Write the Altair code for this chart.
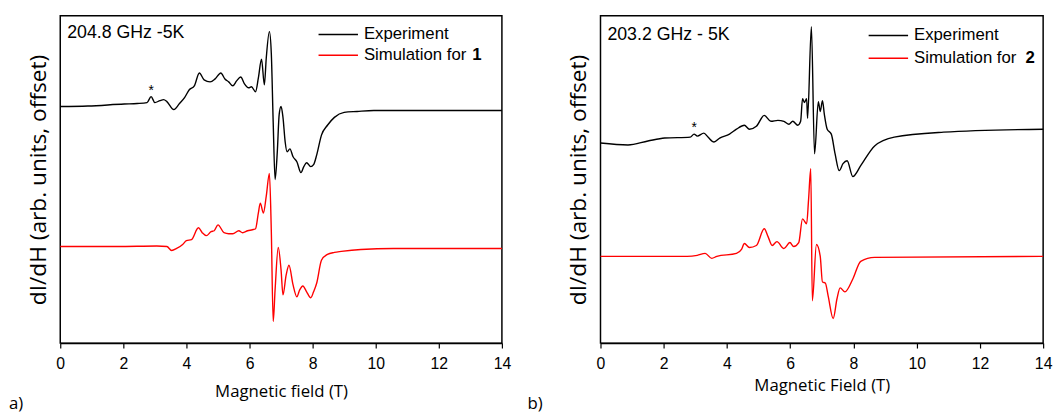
import altair as alt
import pandas as pd

# ---------- Panel a : 204.8 GHz, compound 1 ----------
a_exp_T = [0, 0.875, 2.03, 2.44, 2.75, 2.88, 3.0, 3.16, 3.28, 3.38, 3.6, 3.78, 3.94, 4.09, 4.25,
           4.41, 4.56, 4.75, 4.91, 5.09, 5.22, 5.34, 5.47, 5.59, 5.72, 5.84, 5.97, 6.06, 6.19,
           6.28, 6.38, 6.47, 6.53, 6.63, 6.69, 6.75, 6.81, 6.88, 6.94, 7.0, 7.06, 7.13, 7.19,
           7.28, 7.38, 7.5, 7.63, 7.72, 7.81, 7.94, 8.03, 8.13, 8.28, 8.47, 8.69, 9.0, 9.41,
           9.94, 11.19, 12.44, 14]
a_exp_v = [240, 240.5, 242.5, 243, 244, 250, 244, 246, 247, 245, 237, 243, 249, 257, 261,
           274, 267, 265, 268, 274, 268, 265, 261, 266, 270, 263, 259, 260, 255,
           269, 288, 262, 289, 316, 294, 224, 166, 194, 232, 240, 229, 204, 194,
           197, 189, 184, 173, 179, 183, 179, 181, 191, 211, 221, 229, 234, 235,
           236, 236, 236, 236]
a_sim_T = [0, 1.81, 3.06, 3.38, 3.53, 3.69, 3.88, 4.0, 4.16, 4.38, 4.5, 4.63, 4.78, 4.88, 5.0,
           5.19, 5.34, 5.47, 5.66, 5.78, 5.94, 6.09, 6.19, 6.28, 6.34, 6.44, 6.53, 6.63, 6.69,
           6.75, 6.81, 6.91, 7.0, 7.06, 7.16, 7.25, 7.38, 7.5, 7.59, 7.69, 7.81, 7.94, 8.03,
           8.13, 8.28, 8.47, 8.69, 8.91, 9.53, 10.56, 14]
a_sim_v = [98, 98, 98.5, 98, 94, 96, 100, 104, 105, 117, 112, 109, 113, 114, 120,
           112, 111, 111, 114, 112, 114, 115, 116, 132, 142, 132, 149, 172, 114,
           22, 54, 97, 74, 49, 69, 79, 59, 47, 54, 58, 52, 46, 52,
           61, 84, 90, 92, 93, 95, 96, 96]
a_star_T = [2.88]
a_star_v = [250]

# ---------- Panel b : 203.2 GHz, compound 2 ----------
b_exp_T = [0, 0.87, 1.5, 2.03, 2.84, 2.96, 3.06, 3.27, 3.4, 3.59, 3.77, 4.08, 4.3, 4.55, 4.71,
           4.93, 5.18, 5.39, 5.61, 5.8, 5.96, 6.08, 6.24, 6.33, 6.39, 6.45, 6.52, 6.55, 6.67,
           6.77, 6.89, 6.95, 7.02, 7.08, 7.17, 7.3, 7.42, 7.55, 7.67, 7.8, 7.98, 8.23, 8.67,
           9.29, 10.85, 14]
b_exp_v = [203, 201, 205, 208, 209, 212, 210, 213, 209, 204, 208, 212, 217, 221, 217,
           220, 231, 225, 226, 225, 222, 225, 221, 225, 248, 244, 248, 228, 321,
           192, 245, 235, 246, 232, 217, 212, 192, 175, 182, 185, 169, 180, 200,
           209, 214, 217]
b_sim_T = [0, 2.74, 3.06, 3.31, 3.52, 3.68, 4.3, 4.46, 4.55, 4.71, 4.93, 5.18, 5.3, 5.43,
           5.58, 5.8, 5.99, 6.11, 6.27, 6.39, 6.52, 6.58, 6.65, 6.7, 6.83, 6.95, 7.02, 7.11,
           7.2, 7.36, 7.48, 7.58, 7.73, 7.98, 8.23, 8.67, 14]
b_sim_v = [88, 88, 89, 91, 86, 88, 91, 95, 101, 97, 99, 116, 108, 99,
           103, 96, 102, 98, 102, 126, 121, 145, 177, 43, 100, 88, 62, 61,
           48, 25, 45, 56, 52, 65, 83, 87, 88]
b_star_T = [2.96]
b_star_v = [212]

series_names = ["Experiment", "Simulation for"]
series_colors = ["#000000", "#ff0000"]

TICK_FONT = "Liberation Sans"
TITLE_FONT = "Open Sans"


def panel(exp_T, exp_v, sim_T, sim_v, star_T, star_v, w, h, xtitle, cond, num,
          legend_x, legend_y, row_pad, num_x, num_y, cond_y, x_title_pad, corner_labels):
    df = pd.concat([
        pd.DataFrame({"T": exp_T, "v": exp_v, "series": series_names[0]}),
        pd.DataFrame({"T": sim_T, "v": sim_v, "series": series_names[1]}),
    ])
    xenc = alt.X(
        "T:Q",
        scale=alt.Scale(domain=[0, 14], nice=False, zero=False),
        axis=alt.Axis(
            values=list(range(15)),
            labelExpr="datum.value % 2 == 0 ? datum.label : ''",
            tickSize={"condition": {"test": "datum.value % 2 == 1", "value": 3}, "value": 5},
            labelFlush=False, labelOverlap=False, grid=False,
            labelFont=TICK_FONT, labelFontSize=16, labelPadding=8,
            title=xtitle, titleFont=TITLE_FONT, titleFontSize=17, titleFontWeight="normal",
            titlePadding=x_title_pad,
        ),
    )
    yenc = alt.Y(
        "v:Q",
        scale=alt.Scale(domain=[0, 332], nice=False, zero=False),
        axis=alt.Axis(labels=False, ticks=False, domain=False, grid=False,
                      title="dI/dH (arb. units, offset)", titleFont=TITLE_FONT,
                      titleFontSize=23, titleFontWeight="normal", titlePadding=10),
    )
    lines = alt.Chart(df).mark_line(strokeWidth=1.4, interpolate="monotone").encode(
        x=xenc, y=yenc,
        color=alt.Color(
            "series:N",
            scale=alt.Scale(domain=series_names, range=series_colors),
            legend=alt.Legend(
                orient="none", legendX=legend_x, legendY=legend_y, title=None,
                symbolType="M-2,0L2,0", symbolSize=400, symbolStrokeWidth=1.4,
                labelFont=TICK_FONT, labelFontSize=17, labelOffset=15, padding=0,
                rowPadding=row_pad,
            ),
        ),
        detail="series:N",
    )
    star_df = pd.DataFrame({"T": star_T, "v": star_v, "s": ["*"] * len(star_T)})
    star = alt.Chart(star_df).mark_text(fontSize=14, font=TICK_FONT, dy=-6, baseline="middle").encode(
        x="T:Q", y="v:Q", text="s:N")
    cond_txt = alt.Chart(pd.DataFrame({"t": [cond]})).mark_text(
        align="left", baseline="middle", fontSize=18, font=TICK_FONT).encode(
        x=alt.value(7), y=alt.value(cond_y), text="t:N")
    num_txt = alt.Chart(pd.DataFrame({"t": [num]})).mark_text(
        align="left", baseline="middle", fontSize=17, font=TICK_FONT, fontWeight="bold").encode(
        x=alt.value(num_x), y=alt.value(num_y), text="t:N")
    layers = [lines, star, cond_txt, num_txt]
    for (lbl, lx, ly) in corner_labels:
        layers.append(alt.Chart(pd.DataFrame({"t": [lbl]})).mark_text(
            align="left", baseline="middle", fontSize=17, font=TITLE_FONT).encode(
            x=alt.value(lx), y=alt.value(ly), text="t:N"))
    return alt.layer(*layers).properties(width=w, height=h)


pa = panel(a_exp_T, a_exp_v, a_sim_T, a_sim_v, a_star_T, a_star_v, 448, 332,
           "Magnetic field (T)", "204.8 GHz -5K", "1",
           271, 8, 2, 418, 40, 17, 12, [("a)", -52, 394), ("b)", 474, 394)])
pb = panel(b_exp_T, b_exp_v, b_sim_T, b_sim_v, b_star_T, b_star_v, 449, 332,
           "Magnetic Field (T)", "203.2 GHz - 5K", "2",
           281, 9, 4, 431, 43, 20, 6, [])

chart = alt.hconcat(pa, pb, spacing=23).resolve_legend(color="independent").resolve_scale(
    color="independent"
).properties(
    padding={"left": 0, "top": 4, "right": 0, "bottom": 0}
).configure_view(stroke="#000000", strokeWidth=1.5).configure_axis(
    domainColor="#000000", domainWidth=1.5, tickColor="#000000", tickWidth=1.2,
    labelColor="#000000", titleColor="#000000"
)

chart.save("out.html", embed_options={"renderer": "svg", "actions": False})
